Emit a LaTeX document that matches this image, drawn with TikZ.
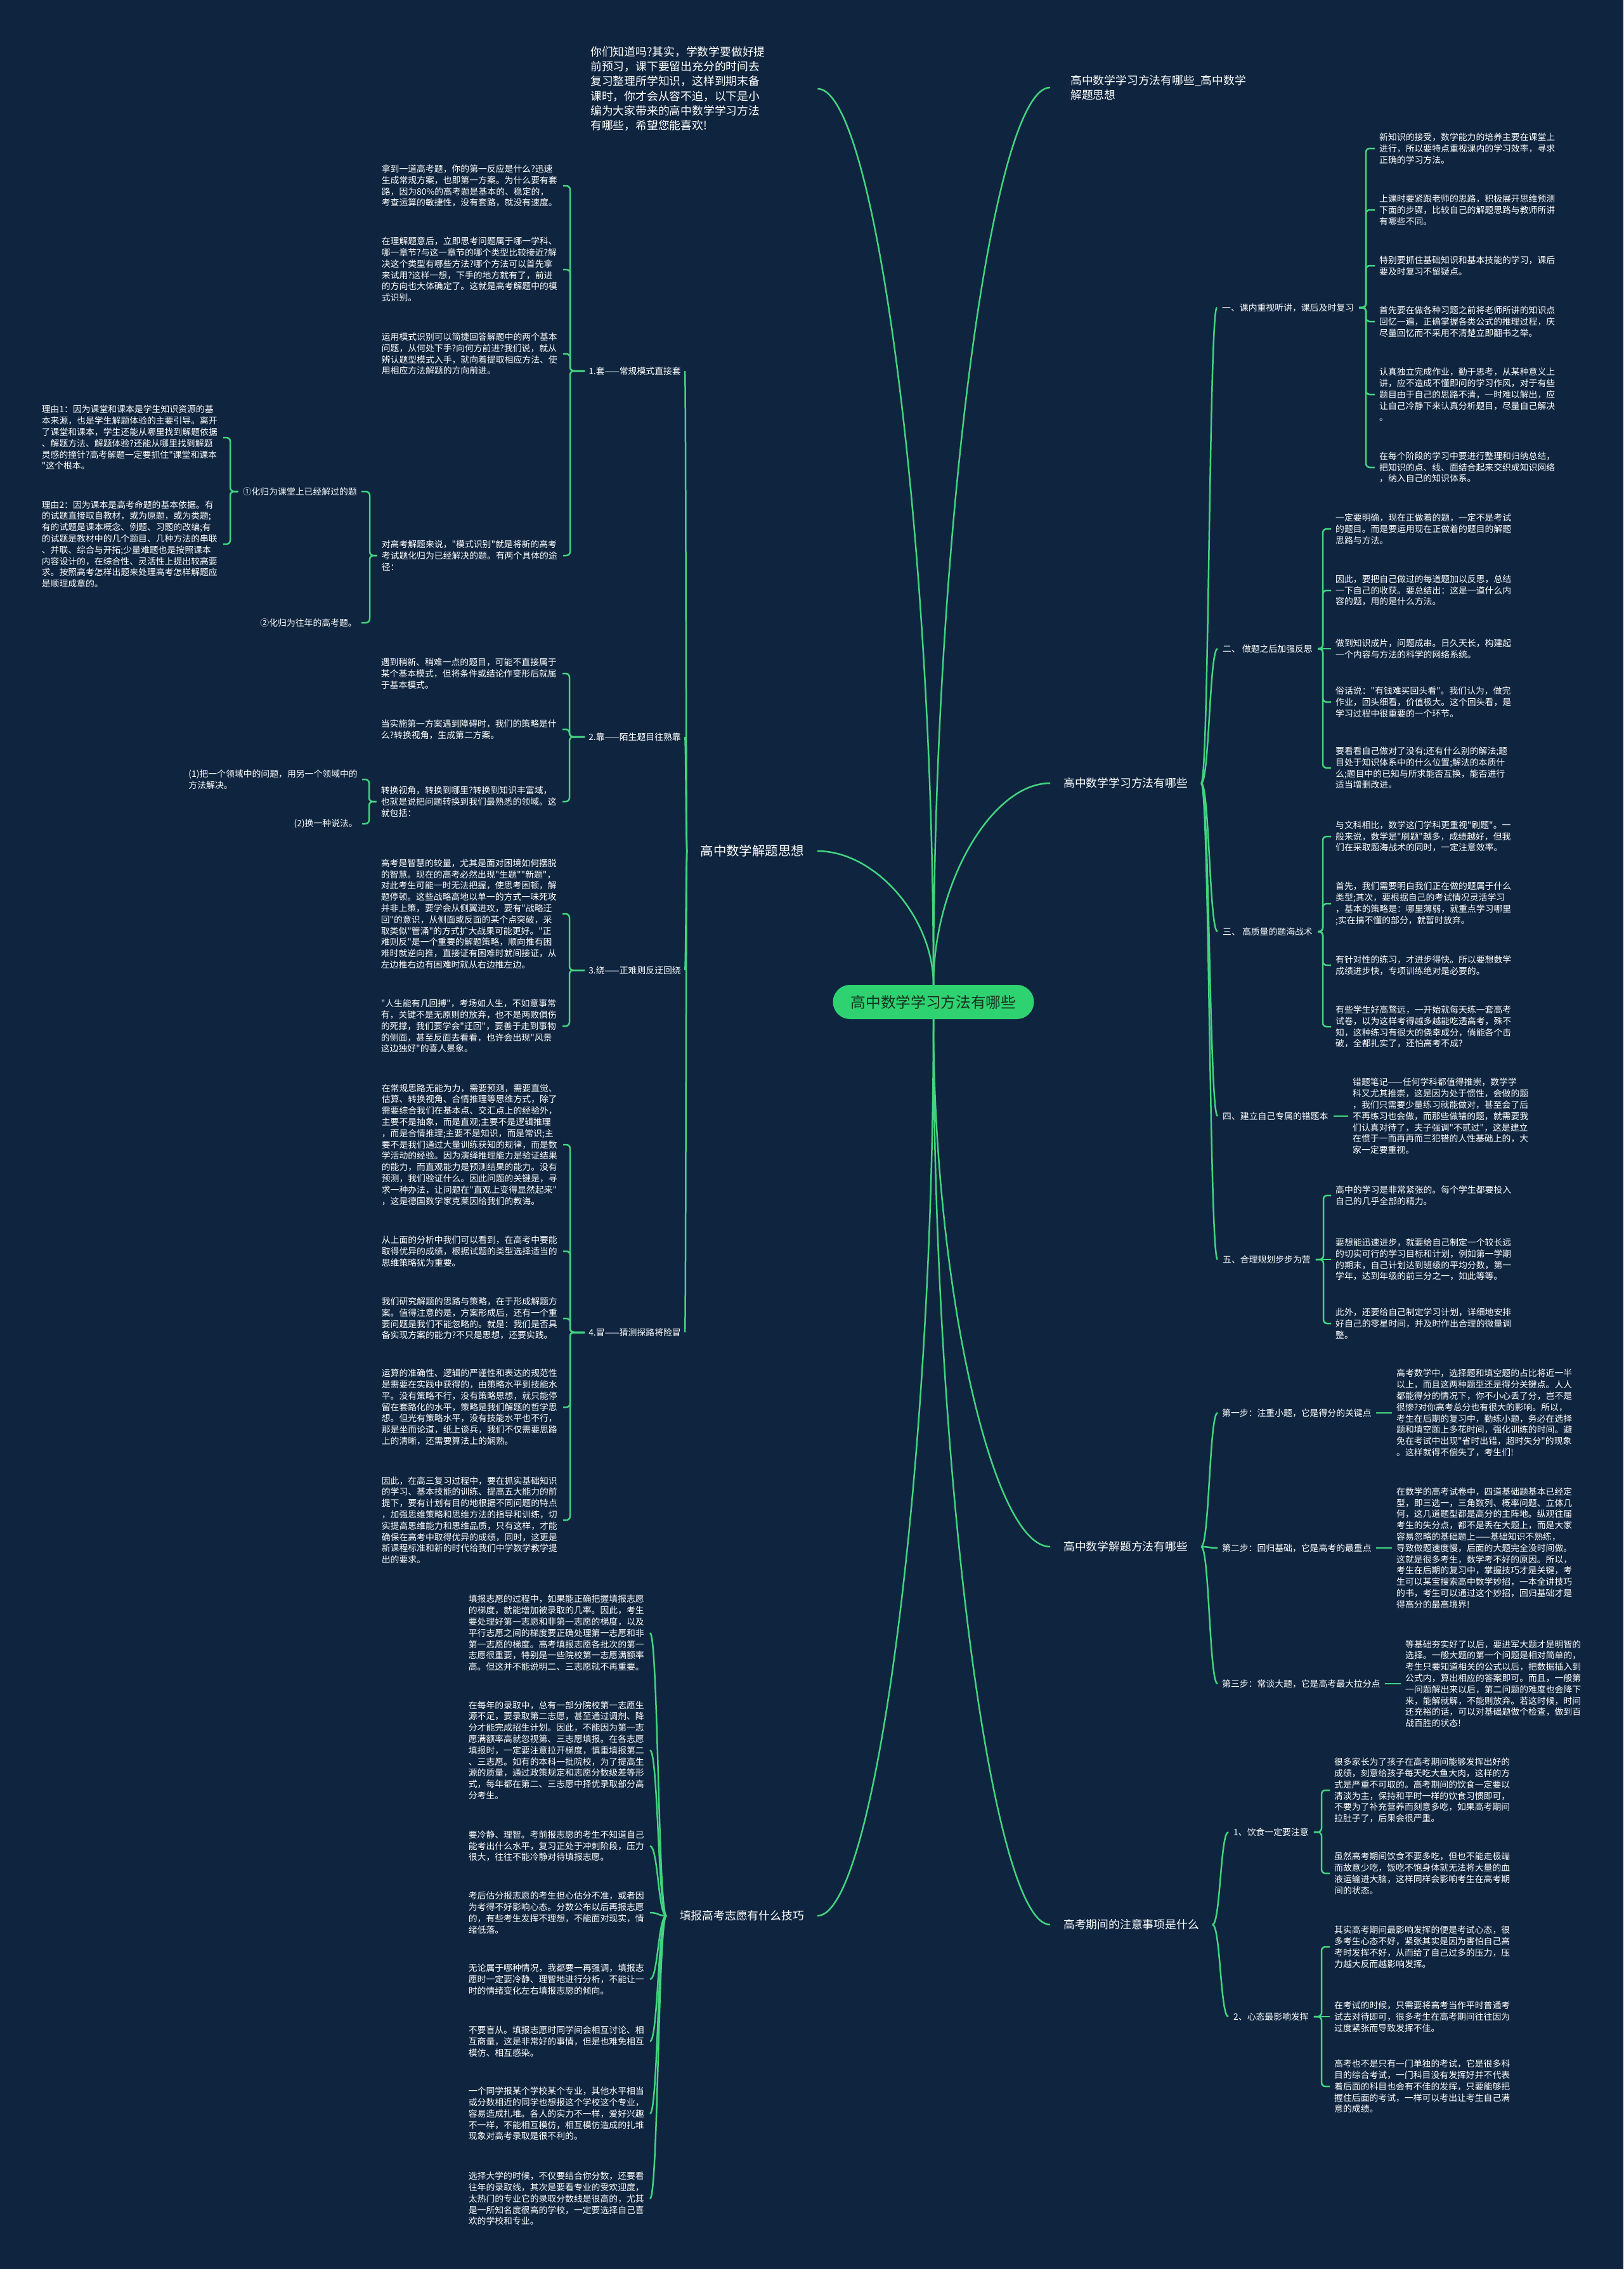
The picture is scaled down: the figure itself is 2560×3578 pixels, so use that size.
\documentclass[tikz,border=0pt]{standalone}
\usepackage{fontspec}
\setmainfont{Noto Sans CJK SC}[Ligatures=TeXOff]
\usetikzlibrary{calc}
\definecolor{bgc}{RGB}{15,37,63}
\definecolor{lc}{RGB}{66,212,128}
\definecolor{rootfill}{RGB}{46,210,112}
\definecolor{roottext}{RGB}{22,50,34}
\newcommand\trunkcurve[2]{\draw[conn] (#1) .. controls ($(#1)!0.5!(#1|-#2)$) and ($(#2)!0.5!(#2-|#1)$) .. (#2);}
\newcommand\scurveto[2]{\draw[conn] (#1) .. controls ($(#1)!0.5!(#1-|#2)$) and ($(#2)!0.5!(#2-|#1)$) .. (#2);}
\newcommand\bracketto[3]{\draw[conn,rounded corners=6pt] (#1) -- (#1-|#2) |- (#3);}
\tikzset{
  conn/.style={draw=lc, line width=2.5pt},
  body/.style={text=white, font=\fontsize{13.85}{17.8}\selectfont, align=left, text width=279pt, inner xsep=7pt, inner ysep=1pt},
  sublab/.style={text=white, font=\fontsize{13.85}{17.8}\selectfont, inner xsep=8pt, inner ysep=2pt},
  branchlab/.style={text=white, font=\fontsize{17.8}{23}\selectfont, inner xsep=21pt, inner ysep=2pt},
  intro/.style={text=white, font=\fontsize{17.8}{23.3}\selectfont, align=left, text width=349pt, inner xsep=9pt, inner ysep=1pt},
  rootnode/.style={rectangle, rounded corners=27pt, fill=rootfill, text=roottext, minimum width=317pt, minimum height=54pt, inner sep=0pt, font=\fontsize{23.7}{28}\selectfont}
}
\begin{document}
\begin{tikzpicture}[x=1pt,y=-1pt]
\fill[bgc] (0,0) rectangle (2560,3578);
\useasboundingbox (0,0) rectangle (2560,3578);

% root
\node[rootnode] (root) at (1472,1580) {高中数学学习方法有哪些};

% top
\node[intro, anchor=west] (intro) at (922,140) {你们知道吗?其实，学数学要做好提\\前预习，课下要留出充分的时间去\\复习整理所学知识，这样到期末备\\课时，你才会从容不迫，以下是小\\编为大家带来的高中数学学习方法\\有哪些，希望您能喜欢!};
\node[branchlab, anchor=west, inner xsep=32pt, align=left] (title) at (1656,138) {高中数学学习方法有哪些\_高中数学\\解题思想};

% branches
\node[branchlab, anchor=west] (b1) at (1656,1235) {高中数学学习方法有哪些};
\node[branchlab, anchor=west] (b2) at (1656,2439) {高中数学解题方法有哪些};
\node[branchlab, anchor=west] (b3) at (1656,3035) {高考期间的注意事项是什么};
\node[branchlab, anchor=east, font=\fontsize{20.4}{24}\selectfont] (b4) at (1289,1342) {高中数学解题思想};
\node[branchlab, anchor=east] (b5) at (1289,3021) {填报高考志愿有什么技巧};

\trunkcurve{root.north}{intro.east}
\trunkcurve{root.north}{title.west}
\trunkcurve{root.north}{b1.west}
\trunkcurve{root.north}{b4.east}
\trunkcurve{root.south}{b2.west}
\trunkcurve{root.south}{b3.west}
\trunkcurve{root.south}{b5.east}

% ===== b1: 高中数学学习方法有哪些 =====
\node[sublab, anchor=west] (r1) at (1919,485) {一、课内重视听讲，课后及时复习};
\node[sublab, anchor=west] (r2) at (1920,1023) {二、 做题之后加强反思};
\node[sublab, anchor=west] (r3) at (1920,1469) {三、 高质量的题海战术};
\node[sublab, anchor=west] (r4) at (1920,1760) {四、建立自己专属的错题本};
\node[sublab, anchor=west] (r5) at (1920,1986) {五、合理规划步步为营};
\foreach \n in {r1,r2,r3,r4,r5} {\scurveto{b1.east}{\n.west}}

\coordinate (x1) at (2154,0);
\node[body, anchor=west] (c1) at (2168,234) {新知识的接受，数学能力的培养主要在课堂上\\进行，所以要特点重视课内的学习效率，寻求\\正确的学习方法。};
\node[body, anchor=west] (c2) at (2168,331) {上课时要紧跟老师的思路，积极展开思维预测\\下面的步骤，比较自己的解题思路与教师所讲\\有哪些不同。};
\node[body, anchor=west] (c3) at (2168,419) {特别要抓住基础知识和基本技能的学习，课后\\要及时复习不留疑点。};
\node[body, anchor=west] (c4) at (2168,507) {首先要在做各种习题之前将老师所讲的知识点\\回忆一遍，正确掌握各类公式的推理过程，庆\\尽量回忆而不采用不清楚立即翻书之举。};
\node[body, anchor=west] (c5) at (2168,622) {认真独立完成作业，勤于思考，从某种意义上\\讲，应不造成不懂即问的学习作风，对于有些\\题目由于自己的思路不清，一时难以解出，应\\让自己冷静下来认真分析题目，尽量自己解决\\。};
\node[body, anchor=west] (c6) at (2168,737) {在每个阶段的学习中要进行整理和归纳总结，\\把知识的点、线、面结合起来交织成知识网络\\，纳入自己的知识体系。};
\foreach \n in {c1,c2,c3,c4,c5,c6} {\bracketto{r1.east}{x1}{\n.west}}

\coordinate (x2) at (2086,0);
\node[body, anchor=west] (d1) at (2099,834) {一定要明确，现在正做着的题，一定不是考试\\的题目。而是要运用现在正做着的题目的解题\\思路与方法。};
\node[body, anchor=west] (d2) at (2099,931) {因此，要把自己做过的每道题加以反思，总结\\一下自己的收获。要总结出：这是一道什么内\\容的题，用的是什么方法。};
\node[body, anchor=west] (d3) at (2099,1023) {做到知识成片，问题成串。日久天长，构建起\\一个内容与方法的科学的网络系统。};
\node[body, anchor=west] (d4) at (2099,1107) {俗话说："有钱难买回头看"。我们认为，做完\\作业，回头细看，价值极大。这个回头看，是\\学习过程中很重要的一个环节。};
\node[body, anchor=west] (d5) at (2099,1211) {要看看自己做对了没有;还有什么别的解法;题\\目处于知识体系中的什么位置;解法的本质什\\么;题目中的已知与所求能否互换，能否进行\\适当增删改进。};
\foreach \n in {d1,d2,d4,d5} {\bracketto{r2.east}{x2}{\n.west}}
\draw[conn] (r2.east) -- (d3.west);

\node[body, anchor=west] (e1) at (2099,1319) {与文科相比，数学这门学科更重视"刷题"。一\\般来说，数学是"刷题"越多，成绩越好，但我\\们在采取题海战术的同时，一定注意效率。};
\node[body, anchor=west] (e2) at (2099,1425) {首先，我们需要明白我们正在做的题属于什么\\类型;其次，要根据自己的考试情况灵活学习\\，基本的策略是：哪里薄弱，就重点学习哪里\\;实在搞不懂的部分，就暂时放弃。};
\node[body, anchor=west] (e3) at (2099,1522) {有针对性的练习，才进步得快。所以要想数学\\成绩进步快，专项训练绝对是必要的。};
\node[body, anchor=west] (e4) at (2099,1619) {有些学生好高骛远，一开始就每天练一套高考\\试卷，以为这样考得越多越能吃透高考，殊不\\知，这种练习有很大的侥幸成分，倘能各个击\\破，全都扎实了，还怕高考不成?};
\foreach \n in {e1,e2,e3,e4} {\bracketto{r3.east}{x2}{\n.west}}

\node[body, anchor=west] (w1) at (2126,1760) {错题笔记——任何学科都值得推崇，数学学\\科又尤其推崇，这是因为处于惯性，会做的题\\，我们只需要少量练习就能做对，甚至会了后\\不再练习也会做，而那些做错的题，就需要我\\们认真对待了，夫子强调"不贰过"，这是建立\\在惯于一而再再而三犯错的人性基础上的，大\\家一定要重视。};
\draw[conn] (r4.east) -- (w1.west);

\coordinate (x5) at (2087,0);
\node[body, anchor=west] (f1) at (2099,1885) {高中的学习是非常紧张的。每个学生都要投入\\自己的几乎全部的精力。};
\node[body, anchor=west] (f2) at (2099,1986) {要想能迅速进步，就要给自己制定一个较长远\\的切实可行的学习目标和计划，例如第一学期\\的期末，自己计划达到班级的平均分数，第一\\学年，达到年级的前三分之一，如此等等。};
\node[body, anchor=west] (f3) at (2099,2087) {此外，还要给自己制定学习计划，详细地安排\\好自己的零星时间，并及时作出合理的微量调\\整。};
\foreach \n in {f1,f3} {\bracketto{r5.east}{x5}{\n.west}}
\draw[conn] (r5.east) -- (f2.west);

% ===== b2: 高中数学解题方法有哪些 =====
\node[sublab, anchor=west, inner xsep=7pt] (s1) at (1920,2228) {第一步：注重小题，它是得分的关键点};
\node[sublab, anchor=west, inner xsep=7pt] (s2) at (1920,2441) {第二步：回归基础，它是高考的最重点};
\node[sublab, anchor=west, inner xsep=7pt] (s3) at (1920,2655) {第三步：常谈大题，它是高考最大拉分点};
\foreach \n in {s1,s2,s3} {\scurveto{b2.east}{\n.west}}
\node[body, anchor=west] (g1) at (2195,2228) {高考数学中，选择题和填空题的占比将近一半\\以上，而且这两种题型还是得分关键点。人人\\都能得分的情况下，你不小心丢了分，岂不是\\很惨?对你高考总分也有很大的影响。所以，\\考生在后期的复习中，勤练小题，务必在选择\\题和填空题上多花时间，强化训练的时间。避\\免在考试中出现"省时出错，超时失分"的现象\\。这样就得不偿失了，考生们!};
\node[body, anchor=west] (g2) at (2195,2441) {在数学的高考试卷中，四道基础题基本已经定\\型，即三选一，三角数列、概率问题、立体几\\何，这几道题型都是高分的主阵地。纵观往届\\考生的失分点，都不是丢在大题上，而是大家\\容易忽略的基础题上——基础知识不熟练，\\导致做题速度慢，后面的大题完全没时间做。\\这就是很多考生，数学考不好的原因。所以，\\考生在后期的复习中，掌握技巧才是关键，考\\生可以某宝搜索高中数学妙招，一本全讲技巧\\的书，考生可以通过这个妙招，回归基础才是\\得高分的最高境界!};
\node[body, anchor=west] (g3) at (2209,2655) {等基础夯实好了以后，要进军大题才是明智的\\选择。一般大题的第一个问题是相对简单的，\\考生只要知道相关的公式以后，把数据插入到\\公式内，算出相应的答案即可。而且，一般第\\一问题解出来以后，第二问题的难度也会降下\\来，能解就解，不能则放弃。若这时候，时间\\还充裕的话，可以对基础题做个检查，做到百\\战百胜的状态!};
\draw[conn] (s1.east) -- (g1.west);
\draw[conn] (s2.east) -- (g2.west);
\draw[conn] (s3.east) -- (g3.west);

% ===== b3: 高考期间的注意事项是什么 =====
\node[sublab, anchor=west] (q1) at (1937,2889) {1、饮食一定要注意};
\node[sublab, anchor=west] (q2) at (1937,3180) {2、心态最影响发挥};
\foreach \n in {q1,q2} {\scurveto{b3.east}{\n.west}}
\coordinate (x6) at (2084,0);
\node[body, anchor=west] (h1) at (2097,2823) {很多家长为了孩子在高考期间能够发挥出好的\\成绩，刻意给孩子每天吃大鱼大肉，这样的方\\式是严重不可取的。高考期间的饮食一定要以\\清淡为主，保持和平时一样的饮食习惯即可，\\不要为了补充营养而刻意多吃，如果高考期间\\拉肚子了，后果会很严重。};
\node[body, anchor=west] (h2) at (2097,2954) {虽然高考期间饮食不要多吃，但也不能走极端\\而故意少吃，饭吃不饱身体就无法将大量的血\\液运输进大脑，这样同样会影响考生在高考期\\间的状态。};
\foreach \n in {h1,h2} {\bracketto{q1.east}{x6}{\n.west}}
\node[body, anchor=west] (i1) at (2097,3070) {其实高考期间最影响发挥的便是考试心态，很\\多考生心态不好，紧张其实是因为害怕自己高\\考时发挥不好，从而给了自己过多的压力，压\\力越大反而越影响发挥。};
\node[body, anchor=west] (i2) at (2097,3180) {在考试的时候，只需要将高考当作平时普通考\\试去对待即可，很多考生在高考期间往往因为\\过度紧张而导致发挥不佳。};
\node[body, anchor=west] (i3) at (2097,3290) {高考也不是只有一门单独的考试，它是很多科\\目的综合考试，一门科目没有发挥好并不代表\\着后面的科目也会有不佳的发挥，只要能够把\\握住后面的考试，一样可以考出让考生自己满\\意的成绩。};
\foreach \n in {i1,i3} {\bracketto{q2.east}{x6}{\n.west}}
\draw[conn] (q2.east) -- (i2.west);

% ===== b4: 高中数学解题思想 =====
\node[sublab, anchor=east, inner xsep=6pt] (L1) at (1080,585) {1.套——常规模式直接套};
\node[sublab, anchor=east, inner xsep=6pt] (L2) at (1080,1162) {2.靠——陌生题目往熟靠};
\node[sublab, anchor=east, inner xsep=6pt] (L3) at (1080,1530) {3.绕——正难则反迂回绕};
\node[sublab, anchor=east, inner xsep=6pt] (L4) at (1080,2101) {4.冒——猜测探路将险冒};
\foreach \n in {L1,L2,L3,L4} {\scurveto{b4.west}{\n.east}}

\coordinate (y1) at (899,0);
\node[body, anchor=east] (a1) at (888,293) {拿到一道高考题，你的第一反应是什么?迅速\\生成常规方案，也即第一方案。为什么要有套\\路，因为80\%的高考题是基本的、稳定的，\\考查运算的敏捷性，没有套路，就没有速度。};
\node[body, anchor=east] (a2) at (888,425) {在理解题意后，立即思考问题属于哪一学科、\\哪一章节?与这一章节的哪个类型比较接近?解\\决这个类型有哪些方法?哪个方法可以首先拿\\来试用?这样一想，下手的地方就有了，前进\\的方向也大体确定了。这就是高考解题中的模\\式识别。};
\node[body, anchor=east] (a3) at (888,558) {运用模式识别可以简捷回答解题中的两个基本\\问题，从何处下手?向何方前进?我们说，就从\\辨认题型模式入手，就向着提取相应方法、使\\用相应方法解题的方向前进。};
\node[body, anchor=east] (a4) at (888,876) {对高考解题来说，"模式识别"就是将新的高考\\考试题化归为已经解决的题。有两个具体的途\\径：};
\foreach \n in {a1,a2,a3,a4} {\bracketto{L1.west}{y1}{\n.east}}

\coordinate (y2) at (583,0);
\node[sublab, anchor=east, inner xsep=7pt] (o1) at (570,775) {①化归为课堂上已经解过的题};
\node[sublab, anchor=east, inner xsep=7pt] (o2) at (570,982) {②化归为往年的高考题。};
\foreach \n in {o1,o2} {\bracketto{a4.west}{y2}{\n.east}}

\coordinate (y3) at (363,0);
\node[body, anchor=east] (z1) at (352,690) {理由1：因为课堂和课本是学生知识资源的基\\本来源，也是学生解题体验的主要引导。离开\\了课堂和课本，学生还能从哪里找到解题依据\\、解题方法、解题体验?还能从哪里找到解题\\灵感的撞针?高考解题一定要抓住"课堂和课本\\"这个根本。};
\node[body, anchor=east] (z2) at (352,858) {理由2：因为课本是高考命题的基本依据。有\\的试题直接取自教材，或为原题，或为类题;\\有的试题是课本概念、例题、习题的改编;有\\的试题是教材中的几个题目、几种方法的串联\\、并联、综合与开拓;少量难题也是按照课本\\内容设计的，在综合性、灵活性上提出较高要\\求。按照高考怎样出题来处理高考怎样解题应\\是顺理成章的。};
\foreach \n in {z1,z2} {\bracketto{o1.west}{y3}{\n.east}}

\coordinate (y4) at (898,0);
\node[body, anchor=east] (k1) at (887,1062) {遇到稍新、稍难一点的题目，可能不直接属于\\某个基本模式，但将条件或结论作变形后就属\\于基本模式。};
\node[body, anchor=east] (k2) at (887,1150) {当实施第一方案遇到障碍时，我们的策略是什\\么?转换视角，生成第二方案。};
\node[body, anchor=east] (k3) at (887,1264) {转换视角，转换到哪里?转换到知识丰富域，\\也就是说把问题转换到我们最熟悉的领域。这\\就包括：};
\foreach \n in {k1,k2,k3} {\bracketto{L2.west}{y4}{\n.east}}

\coordinate (y5) at (582,0);
\node[sublab, anchor=east, inner xsep=7pt, align=left] (v1) at (571,1229) {(1)把一个领域中的问题，用另一个领域中的\\方法解决。};
\node[sublab, anchor=east, inner xsep=7pt] (v2) at (571,1299) {(2)换一种说法。};
\foreach \n in {v1,v2} {\bracketto{k3.west}{y5}{\n.east}}

\node[body, anchor=east] (m1) at (887,1441) {高考是智慧的较量，尤其是面对困境如何摆脱\\的智慧。现在的高考必然出现"生题""新题"，\\对此考生可能一时无法把握，使思考困顿，解\\题停顿。这些战略高地以单一的方式一味死攻\\并非上策，要学会从侧翼进攻，要有"战略迂\\回"的意识，从侧面或反面的某个点突破，采\\取类似"管涌"的方式扩大战果可能更好。"正\\难则反"是一个重要的解题策略，顺向推有困\\难时就逆向推，直接证有困难时就间接证，从\\左边推右边有困难时就从右边推左边。};
\node[body, anchor=east] (m2) at (887,1618) {"人生能有几回搏"，考场如人生，不如意事常\\有，关键不是无原则的放弃，也不是两败俱伤\\的死撑，我们要学会"迂回"，要善于走到事物\\的侧面，甚至反面去看看，也许会出现"风景\\这边独好"的喜人景象。};
\foreach \n in {m1,m2} {\bracketto{L3.west}{y4}{\n.east}}

\node[body, anchor=east] (n1) at (888,1805) {在常规思路无能为力，需要预测，需要直觉、\\估算、转换视角、合情推理等思维方式，除了\\需要综合我们在基本点、交汇点上的经验外，\\主要不是抽象，而是直观;主要不是逻辑推理\\，而是合情推理;主要不是知识，而是常识;主\\要不是我们通过大量训练获知的规律，而是数\\学活动的经验。因为演绎推理能力是验证结果\\的能力，而直观能力是预测结果的能力。没有\\预测，我们验证什么。因此问题的关键是，寻\\求一种办法，让问题在"直观上变得显然起来"\\，这是德国数学家克莱因给我们的教诲。};
\node[body, anchor=east] (n2) at (888,1973) {从上面的分析中我们可以看到，在高考中要能\\取得优异的成绩，根据试题的类型选择适当的\\思维策略犹为重要。};
\node[body, anchor=east] (n3) at (888,2079) {我们研究解题的思路与策略，在于形成解题方\\案。值得注意的是，方案形成后，还有一个重\\要问题是我们不能忽略的。就是：我们是否具\\备实现方案的能力?不只是思想，还要实践。};
\node[body, anchor=east] (n4) at (888,2219) {运算的准确性、逻辑的严谨性和表达的规范性\\是需要在实践中获得的，由策略水平到技能水\\平。没有策略不行，没有策略思想，就只能停\\留在套路化的水平，策略是我们解题的哲学思\\想。但光有策略水平，没有技能水平也不行，\\那是坐而论道，纸上谈兵，我们不仅需要思路\\上的清晰，还需要算法上的娴熟。};
\node[body, anchor=east] (n5) at (888,2397) {因此，在高三复习过程中，要在抓实基础知识\\的学习、基本技能的训练、提高五大能力的前\\提下，要有计划有目的地根据不同问题的特点\\，加强思维策略和思维方法的指导和训练，切\\实提高思维能力和思维品质，只有这样，才能\\确保在高考中取得优异的成绩，同时，这更是\\新课程标准和新的时代给我们中学数学教学提\\出的要求。};
\foreach \n in {n1,n2,n3,n4,n5} {\bracketto{L4.west}{y1}{\n.east}}

% ===== b5: 填报高考志愿有什么技巧 =====
\node[body, anchor=east] (p1) at (1025,2575) {填报志愿的过程中，如果能正确把握填报志愿\\的梯度，就能增加被录取的几率。因此，考生\\要处理好第一志愿和非第一志愿的梯度，以及\\平行志愿之间的梯度要正确处理第一志愿和非\\第一志愿的梯度。高考填报志愿各批次的第一\\志愿很重要，特别是一些院校第一志愿满额率\\高。但这并不能说明二、三志愿就不再重要。};
\node[body, anchor=east] (p2) at (1025,2760) {在每年的录取中，总有一部分院校第一志愿生\\源不足，要录取第二志愿，甚至通过调剂、降\\分才能完成招生计划。因此，不能因为第一志\\愿满额率高就忽视第、三志愿填报。在各志愿\\填报时，一定要注意拉开梯度，慎重填报第二\\、三志愿。如有的本科一批院校，为了提高生\\源的质量，通过政策规定和志愿分数级差等形\\式，每年都在第二、三志愿中择优录取部分高\\分考生。};
\node[body, anchor=east] (p3) at (1025,2911) {要冷静、理智。考前报志愿的考生不知道自己\\能考出什么水平，复习正处于冲刺阶段，压力\\很大，往往不能冷静对待填报志愿。};
\node[body, anchor=east] (p4) at (1025,3016) {考后估分报志愿的考生担心估分不准，或者因\\为考得不好影响心态。分数公布以后再报志愿\\的，有些考生发挥不理想，不能面对现实，情\\绪低落。};
\node[body, anchor=east] (p5) at (1025,3121) {无论属于哪种情况，我都要一再强调，填报志\\愿时一定要冷静、理智地进行分析，不能让一\\时的情绪变化左右填报志愿的倾向。};
\node[body, anchor=east] (p6) at (1025,3219) {不要盲从。填报志愿时同学间会相互讨论、相\\互商量，这是非常好的事情，但是也难免相互\\模仿、相互感染。};
\node[body, anchor=east] (p7) at (1025,3333) {一个同学报某个学校某个专业，其他水平相当\\或分数相近的同学也想报这个学校这个专业，\\容易造成扎堆。各人的实力不一样，爱好兴趣\\不一样，不能相互模仿，相互模仿造成的扎堆\\现象对高考录取是很不利的。};
\node[body, anchor=east] (p8) at (1025,3467) {选择大学的时候，不仅要结合你分数，还要看\\往年的录取线，其次是要看专业的受欢迎度，\\太热门的专业它的录取分数线是很高的，尤其\\是一所知名度很高的学校，一定要选择自己喜\\欢的学校和专业。};
\foreach \n in {p1,p2,p3,p4,p5,p6,p7,p8} {\scurveto{b5.west}{\n.east}}

\end{tikzpicture}
\end{document}
